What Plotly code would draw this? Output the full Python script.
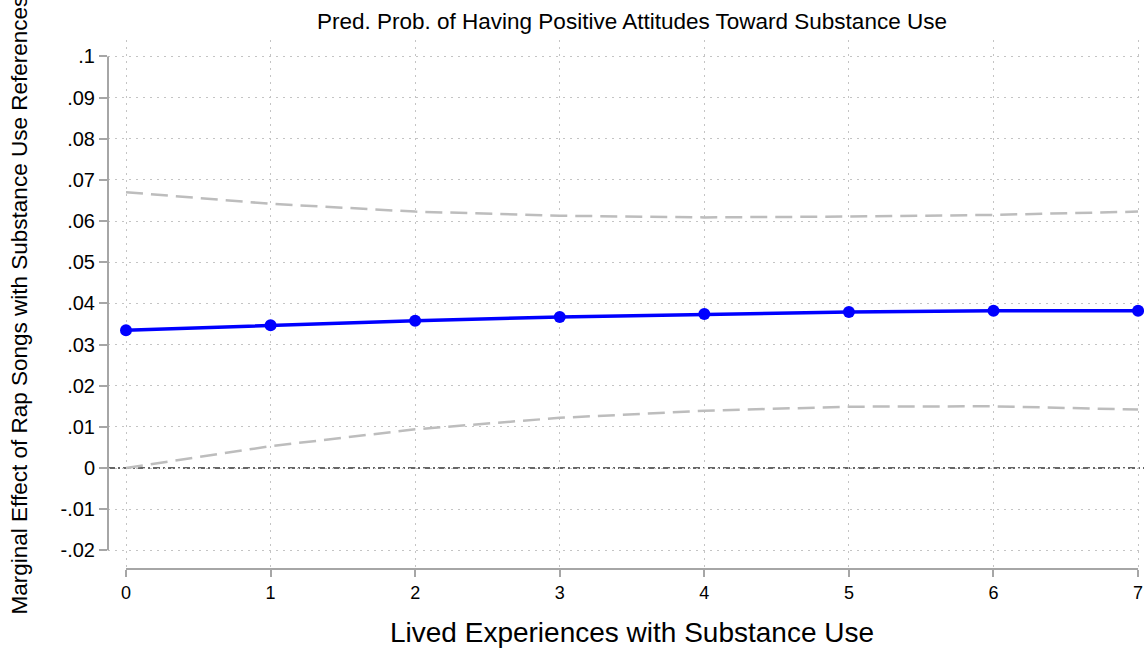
import plotly.graph_objects as go

# Data
x_vals = [0, 1, 2, 3, 4, 5, 6, 7]
effect = [0.0335, 0.0347, 0.0358, 0.0367, 0.0374, 0.0379, 0.0382, 0.0382]
upper_ci = [0.0670, 0.0642, 0.0623, 0.0613, 0.0609, 0.0611, 0.0615, 0.0623]
lower_ci = [0.0000, 0.0053, 0.0094, 0.0122, 0.0139, 0.0149, 0.0150, 0.0142]

y_tickvals = [0.1, 0.09, 0.08, 0.07, 0.06, 0.05, 0.04, 0.03, 0.02, 0.01, 0, -0.01, -0.02]
y_ticktext = [".1", ".09", ".08", ".07", ".06", ".05", ".04", ".03", ".02", ".01", "0", "-.01", "-.02"]
x_ticktext = ["0", "1", "2", "3", "4", "5", "6", "7"]

title_text = "Pred. Prob. of Having Positive Attitudes Toward Substance Use"
y_title = "Marginal Effect of Rap Songs with Substance Use References"
x_title = "Lived Experiences with Substance Use"

FONT = "Liberation Sans, Arial, sans-serif"
AXIS_GRAY = "#a6a6a6"

fig = go.Figure()

fig.add_trace(go.Scatter(x=x_vals, y=upper_ci, mode="lines",
                         line=dict(color="#bdbdbd", width=2.5, dash="17px,8px"),
                         hoverinfo="skip", showlegend=False))
fig.add_trace(go.Scatter(x=x_vals, y=lower_ci, mode="lines",
                         line=dict(color="#bdbdbd", width=2.5, dash="17px,8px"),
                         hoverinfo="skip", showlegend=False))
fig.add_trace(go.Scatter(x=x_vals, y=effect, mode="lines+markers",
                         line=dict(color="#0000ff", width=3.5),
                         marker=dict(color="#0000ff", size=12),
                         showlegend=False))

# zero reference line
fig.add_shape(type="line", xref="paper", yref="y", x0=0, x1=1, y0=0, y1=0,
              line=dict(color="#666666", width=2.2, dash="7px,3px,2px,3px"), layer="below")
# Stata-style offset axis lines
fig.add_shape(type="line", xref="paper", yref="y", x0=0, x1=0,
              y0=min(y_tickvals), y1=max(y_tickvals),
              line=dict(color=AXIS_GRAY, width=2))
fig.add_shape(type="line", xref="x", yref="paper", x0=min(x_vals), x1=max(x_vals),
              y0=0, y1=0, line=dict(color=AXIS_GRAY, width=2))

fig.add_annotation(text=title_text, xref="x", yref="paper", x=3.5, y=1,
                   yshift=19, showarrow=False, yanchor="middle",
                   font=dict(family=FONT, size=22.5, color="black"))
fig.add_annotation(text=y_title, xref="paper", yref="paper", x=-0.085, y=0.5,
                   textangle=-90, showarrow=False, xanchor="center", yanchor="middle",
                   font=dict(family=FONT, size=22.5, color="black"))
fig.add_annotation(text=x_title, xref="x", yref="paper", x=3.5, y=0,
                   yshift=-63, showarrow=False, yanchor="middle",
                   font=dict(family=FONT, size=28, color="black"))

fig.update_layout(
    width=1144, height=650,
    margin=dict(l=108, r=0, t=40, b=81, pad=0),
    paper_bgcolor="white", plot_bgcolor="white",
    font=dict(family=FONT, color="black"),
    xaxis=dict(range=[-0.1245, 7.041], tickvals=x_vals, ticktext=x_ticktext,
               showgrid=True, gridcolor="#c4c4c4", griddash="2px,5px", gridwidth=1,
               zeroline=False, showline=False,
               ticks="outside", ticklen=7, tickwidth=2, tickcolor=AXIS_GRAY,
               tickfont=dict(size=18, family=FONT, color="black")),
    yaxis=dict(range=[-0.02454, 0.104], tickvals=y_tickvals, ticktext=y_ticktext,
               showgrid=True, gridcolor="#c4c4c4", griddash="2px,5px", gridwidth=1,
               zeroline=False, showline=False,
               ticks="outside", ticklen=8, tickwidth=2, tickcolor=AXIS_GRAY,
               tickfont=dict(size=20, family=FONT, color="black")),
)

fig.write_html("out.html", config={"displayModeBar": False},
               post_script="document.body.style.margin='0';document.body.style.overflow='hidden';")
